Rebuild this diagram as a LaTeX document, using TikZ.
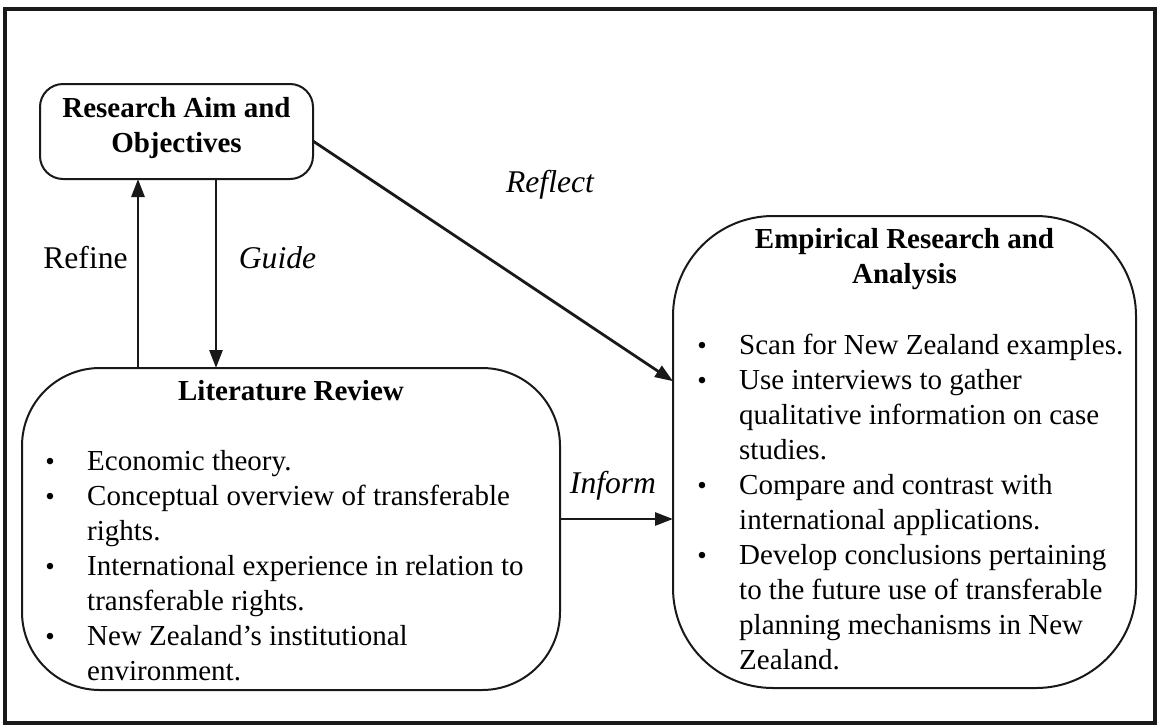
\documentclass[tikz,border=0pt]{standalone}
\usepackage{fontspec}
\setmainfont{Liberation Serif}
\usetikzlibrary{arrows.meta}

% text sizes: 11pt body, 12pt arrow labels (at 1px = 1pt)
\newcommand\bodysize{\fontsize{29}{35}\selectfont}
\newcommand\labelsize{\fontsize{31.6}{36}\selectfont}
% small list bullet, centred on the column origin
\newcommand\blt{\makebox[0pt][c]{\fontsize{27}{27}\selectfont\textbullet}\hspace*{37pt}}

\begin{document}
\begin{tikzpicture}[x=1pt,y=-1pt,
  ink/.style={draw=black!90},
  panel/.style={ink, line width=2pt, rounded corners=#1, inner sep=0pt, outer sep=0pt},
  flow/.style={ink, line width=2.8pt, -{Triangle[length=18pt,width=13pt]}},
  heading/.style={font=\bodysize\bfseries, inner sep=0pt, anchor=base},
  listing/.style={font=\bodysize, inner sep=0pt, anchor=base west},
  tag/.style={font=\labelsize, inner sep=0pt, anchor=base}]

\useasboundingbox (0,0) rectangle (1158,726);
\fill[white] (0,0) rectangle (1158,726);

% outer frame
\draw[ink, line width=3.5pt] (5,9) rectangle (1155,723);

% the three panels
\node[panel=23pt, minimum width=273pt, minimum height=95pt] (aim) at (176.5,131.5) {};
\node[panel=78pt, minimum width=538pt, minimum height=322pt] (lit) at (291,529) {};
\node[panel=100pt, minimum width=463pt, minimum height=472pt] (emp) at (904.5,452) {};

% panel titles
\node[heading] (aimtitle) at (176.5,117)
  {\begin{tabular}[t]{@{}c@{}}\fontsize{29}{36}\selectfont Research Aim and\\ Objectives\end{tabular}};
\node[heading] (littitle) at (291,400) {Literature Review};
\node[heading] (emptitle) at (904.5,248)
  {\begin{tabular}[t]{@{}c@{}}Empirical Research and\\ Analysis\end{tabular}};

% bullet lists
\node[listing] (litlist) at (50,470)
  {\begin{tabular}[t]{@{}l@{}l@{}}
   \blt & Economic theory.\\
   \blt & Conceptual overview of transferable\\
        & rights.\\
   \blt & International experience in relation to\\
        & transferable rights.\\
   \blt & New Zealand's institutional\\
        & environment.
   \end{tabular}};
\node[listing] (emplist) at (702,354)
  {\begin{tabular}[t]{@{}l@{}l@{}}
   \blt & Scan for New Zealand examples.\\
   \blt & Use interviews to gather\\
        & qualitative information on case\\
        & studies.\\
   \blt & Compare and contrast with\\
        & international applications.\\
   \blt & Develop conclusions pertaining\\
        & to the future use of transferable\\
        & planning mechanisms in New\\
        & Zealand.
   \end{tabular}};

% connector positions
\coordinate (refinex) at (138,0);
\coordinate (guidex) at (216,0);
\coordinate (informy) at (0,519);

% connectors
\draw[flow] (refinex |- lit.north) -- (refinex |- aim.south);
\draw[flow] (guidex |- aim.south) -- (guidex |- lit.north);
\draw[flow] (aim.-4.4) -- (emp.163.86);
\draw[flow] (lit.east |- informy) -- (emp.west |- informy);

% connector labels
\node[tag] (refine) at (85.5,268) {Refine};
\node[tag] (guide) at (277.5,268) {\itshape Guide};
\node[tag] (reflect) at (550,192) {\itshape Reflect};
\node[tag] (inform) at (613,493) {\itshape Inform};
\end{tikzpicture}
\end{document}
